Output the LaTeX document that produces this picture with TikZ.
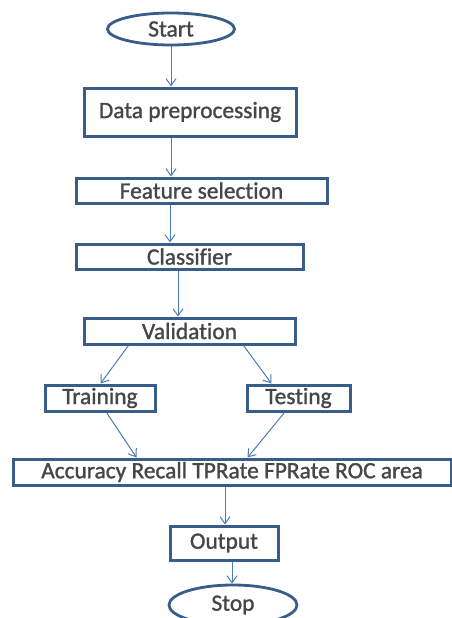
\documentclass[tikz,border=0pt]{standalone}
\usepackage{fontspec}
\setmainfont{Carlito}[Ligatures=NoCommon]
\newfontfamily\boxfont{Carlito}[Ligatures=NoCommon, FakeBold=1.2]
\usetikzlibrary{shapes,arrows.meta,positioning}

\definecolor{boxline}{RGB}{56,93,138}
\definecolor{arrowline}{RGB}{74,126,187}
\definecolor{labeltext}{RGB}{70,70,70}

\begin{document}
\begin{tikzpicture}[x=1pt, y=-1pt,
    stepbox/.style={draw=boxline, line width=3pt, fill=white, inner sep=0pt, align=center, font=\boxfont\fontsize{23.4}{27}\selectfont, text=labeltext},
    termbox/.style={stepbox, ellipse, line width=2.8pt},
    flow/.style={draw=arrowline, line width=1pt, -{Straight Barb[length=7pt, width=10pt]}}]
    \useasboundingbox (0,0) rectangle (452,618);

    % Start and first steps
    \node[termbox, minimum width=127pt, minimum height=32pt] (start) at (171,29) {Start};
    \node[stepbox, minimum width=212pt, minimum height=48pt] (prep) at (190,112) {Data preprocessing};
    \node[stepbox, minimum width=251pt, minimum height=25pt] (feat) at (201.5,190.5) {Feature selection};
    \node[stepbox, minimum width=227pt, minimum height=25pt] (clf) at (189.5,256.5) {Classifier};
    \node[stepbox, minimum width=211pt, minimum height=26pt] (valid) at (189.5,331) {Validation};

    % Split into two branches
    \node[stepbox, minimum width=110pt, minimum height=26pt] (train) at (100,398) {Training};
    \node[stepbox, minimum width=103pt, minimum height=26pt] (test) at (298.5,398) {Testing};

    % Measures, output and stop
    \node[stepbox, minimum width=438pt, minimum height=26pt] (acc) at (232,472) {Accuracy Recall TPRate FPRate ROC area};
    \node[stepbox, minimum width=108pt, minimum height=34pt] (out) at (224,543) {Output};
    \node[termbox, minimum width=128pt, minimum height=40pt] (stop) at (233,605) {Stop};

    % Arrows
    \draw[flow] (start.south) -- (start.south |- prep.north);
    \draw[flow] (prep.south -| start) -- (feat.north -| start);
    \draw[flow] ([xshift=-31.5pt]feat.south) -- ([xshift=-31.5pt]feat.south |- clf.north);
    \draw[flow] ([xshift=-11.5pt]clf.south) -- ([xshift=-11.5pt]clf.south |- valid.north);
    \draw[flow] ([xshift=46pt]valid.south west) -- ([xshift=57pt]train.north west);
    \draw[flow] ([xshift=-53pt]valid.south east) -- ([xshift=-80pt]test.north east);
    \draw[flow] ([xshift=63pt]train.south west) -- ([xshift=125pt]acc.north west);
    \draw[flow] ([xshift=39pt]test.south west) -- ([xshift=236pt]acc.north west);
    \draw[flow] ([xshift=-7pt]acc.south) -- ([xshift=-7pt]acc.south |- out.north);
    \draw[flow] ([xshift=8pt]out.south) -- ([xshift=8pt]out.south |- stop.north);
\end{tikzpicture}
\end{document}
